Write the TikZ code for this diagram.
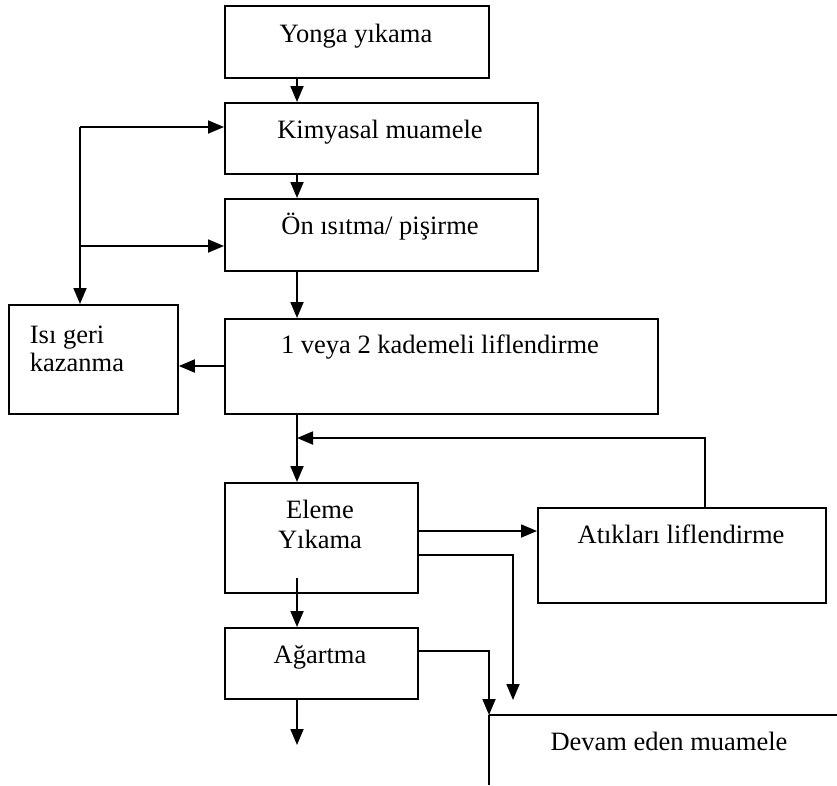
\documentclass[tikz,border=0pt]{standalone}
\usepackage{fontspec}
\setmainfont{Liberation Serif}
\usetikzlibrary{arrows.meta, calc}

\begin{document}
\begin{tikzpicture}[x=1pt, y=-1pt, line width=1.8pt,
  >={Triangle[length=16pt,width=13pt]},
  kutu/.style={draw, inner sep=0pt, anchor=north west},
  yazi/.style={anchor=base, inner sep=0pt, font=\fontsize{26.5}{30}\selectfont}]
\useasboundingbox (0,0) rectangle (837,785);

\coordinate (anax) at (297,0);

% kutular
\node[kutu, minimum width=264pt, minimum height=72pt] (yonga) at (224,5) {};
\node[kutu, minimum width=313pt, minimum height=71pt] (kim) at (224,102) {};
\node[kutu, minimum width=313pt, minimum height=72pt] (on) at (224,198) {};
\node[kutu, minimum width=169pt, minimum height=109pt] (isi) at (8,304) {};
\node[kutu, minimum width=433pt, minimum height=95pt] (lifl) at (224,318) {};
\node[kutu, minimum width=193pt, minimum height=110pt] (eleme) at (224,482) {};
\node[kutu, minimum width=288pt, minimum height=95pt] (atik) at (537,507) {};
\node[kutu, minimum width=193pt, minimum height=71pt] (agartma) at (224,627) {};

% yazilar
\node[yazi] (yongatxt) at (356,42) {Yonga yıkama};
\node[yazi] (kimtxt) at (380,138) {Kimyasal muamele};
\node[yazi] (ontxt) at (380,234) {Ön ısıtma/ pişirme};
\node[yazi, anchor=base west] (isitxt1) at (29,343) {Isı geri};
\node[yazi, anchor=base west] (isitxt2) at (29,371) {kazanma};
\node[yazi] (lifltxt) at (440,353) {1 veya 2 kademeli liflendirme};
\node[yazi] (elemetxt1) at (320,518) {Eleme};
\node[yazi] (elemetxt2) at (320,548) {Yıkama};
\node[yazi] (atiktxt) at (681,543) {Atıkları liflendirme};
\node[yazi] (agartmatxt) at (320,663) {Ağartma};
\node[yazi] (devamtxt) at (669,750) {Devam eden muamele};

% ana akis
\draw[->] (anax |- yonga.south) -- (anax |- kim.north);
\draw[->] (anax |- kim.south) -- (anax |- on.north);
\draw[->] (anax |- on.south) -- (anax |- lifl.north);
\draw[->] (anax |- lifl.south) -- (anax |- eleme.north);

% isi geri kazanma
\coordinate (g1) at (80,127);
\coordinate (g2) at (80,246);
\coordinate (g3) at (0,366);
\draw[->] (g1) -- (g1 -| kim.west);
\draw[->] (g2) -- (g2 -| on.west);
\draw[->] (g1) -- (g1 |- isi.north);
\draw[->] (g3 -| lifl.west) -- (g3 -| isi.east);

% atiklar
\coordinate (geri) at (705,438);
\coordinate (e1) at (0,531);
\draw[->] (geri |- atik.north) -- (geri) -- (geri -| anax);
\draw[->] (e1 -| eleme.east) -- (e1 -| atik.west);

% eleme ve agartma
\coordinate (e2) at (513,555);
\coordinate (e3) at (513,700);
\coordinate (e4) at (297,578);
\coordinate (a1) at (489,651);
\coordinate (a2) at (297,745);
\coordinate (dv) at (489,715);
\draw[->] (e2 -| eleme.east) -- (e2) -- (e3);
\draw[->] (e4) -- (e4 |- agartma.north);
\draw[->] (a1 -| agartma.east) -- (a1) -- (dv);
\draw[->] (anax |- agartma.south) -- (a2);

% devam eden muamele
\draw (dv) -- (837,715);
\draw (dv) -- (489,785);

\end{tikzpicture}
\end{document}
